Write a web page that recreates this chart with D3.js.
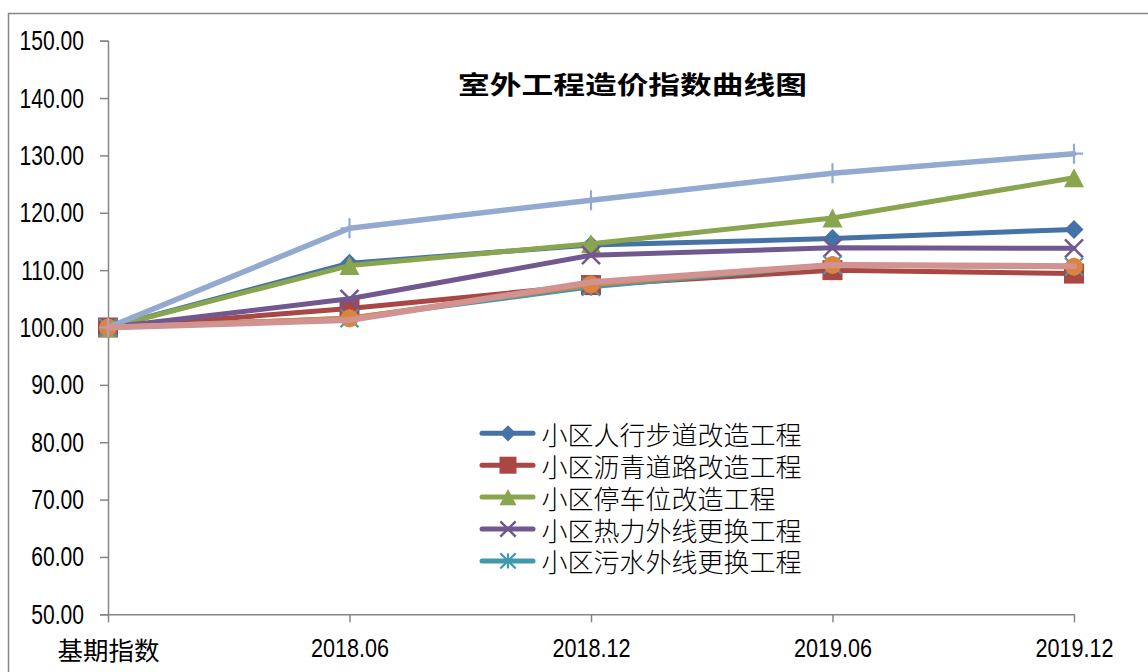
<!DOCTYPE html>
<html><head><meta charset="utf-8">
<script src="https://cdn.jsdelivr.net/npm/d3@7"></script>
<style>
html,body{margin:0;padding:0;background:#fff;}
svg{display:block;}
</style></head>
<body>
<svg id="chart" width="1148" height="672"></svg>
<script>
const title = "室外工程造价指数曲线图";
const categories = ["基期指数", "2018.06", "2018.12", "2019.06", "2019.12"];
const yTicks = [50, 60, 70, 80, 90, 100, 110, 120, 130, 140, 150];

const seriesNames = ["小区人行步道改造工程", "小区沥青道路改造工程", "小区停车位改造工程", "小区热力外线更换工程", "小区污水外线更换工程", "系列6", "系列7", "系列8"];
const s1 = [100, 111.2, 114.4, 115.5, 117.1];
const s2 = [100, 103.3, 107.4, 110.0, 109.4];
const s3 = [100, 110.8, 114.6, 119.1, 126.1];
const s4 = [100, 105.0, 112.6, 113.9, 113.8];
const s5 = [100, 101.6, 107.1, 110.9, 110.6];
const s6 = [100, 101.6, 107.5, 110.9, 110.6];
const s7 = [100, 117.3, 122.2, 126.9, 130.3];
const s8 = [100, 101.3, 107.9, 110.9, 110.7];
const seriesValues = [s1, s2, s3, s4, s5, s6, s7, s8];
const legendCount = 5;

const colors = ["#4572A7", "#AA4643", "#89A54E", "#71588F", "#4198AF", "#DB843D", "#93A9CF", "#D19392"];
const markers = ["diamond", "square", "triangle", "x", "star", "circle", "plus", "none"];
const widths = [5, 5, 5, 5, 5, 5, 5.5, 6];

const svg = d3.select("#chart");
const axisColor = "#868686";

// outer frame
svg.append("rect").attr("x", 8.5).attr("y", 13.5).attr("width", 1200).attr("height", 700)
  .attr("fill", "none").attr("stroke", axisColor).attr("stroke-width", 1.5);

const x = d3.scalePoint().domain(categories).range([108, 1074]);
const y = d3.scaleLinear().domain([50, 150]).range([614.3, 40.7]);

// title
svg.append("text").attr("x", 458).attr("y", 82.5)
  .attr("dominant-baseline", "central")
  .attr("font-family", "'Noto Sans CJK SC', sans-serif").attr("font-weight", "bold")
  .attr("font-size", 25).attr("fill", "#000")
  .attr("textLength", 349).attr("lengthAdjust", "spacingAndGlyphs")
  .text(title);

// Y axis
const yAxis = svg.append("g").attr("transform", "translate(108,0)")
  .call(d3.axisLeft(y).tickValues(yTicks).tickSize(8).tickPadding(16).tickFormat(d => d.toFixed(2)));
yAxis.selectAll("path,line").attr("stroke", axisColor).attr("stroke-width", 1.5);
yAxis.selectAll("text").attr("font-family", "'Liberation Sans', Arial, sans-serif")
  .attr("font-size", 27).attr("fill", "#000").attr("dy", null)
  .attr("dominant-baseline", "central")
  .each(function() { const L = this.getComputedTextLength(); d3.select(this).attr("textLength", L * 0.78).attr("lengthAdjust", "spacingAndGlyphs"); });

// X axis
const xAxis = svg.append("g").attr("transform", "translate(0,614.3)")
  .call(d3.axisBottom(x).tickSize(8).tickSizeOuter(0));
xAxis.select("path").attr("stroke", axisColor).attr("stroke-width", 1.5);
xAxis.selectAll("line").attr("stroke", axisColor).attr("stroke-width", 1.5);
xAxis.selectAll("text").attr("y", 34).attr("dy", null).attr("dominant-baseline", "central")
  .attr("font-size", 26).attr("fill", "#000")
  .attr("font-family", d => /^\d/.test(d) ? "'Liberation Sans', Arial, sans-serif" : "'Noto Sans CJK SC', sans-serif")
  .each(function(d) {
    if (/^\d/.test(d)) { const L = this.getComputedTextLength(); d3.select(this).attr("textLength", L * 0.83).attr("lengthAdjust", "spacingAndGlyphs"); }
    else { d3.select(this).attr("font-size", 25.5); }
  });

function drawMarker(g, type, cx, cy, color, s) {
  s = s || 1;
  if (type === "diamond") {
    const h = 9.5 * s;
    g.append("path").attr("d", `M${cx},${cy-h}L${cx+h},${cy}L${cx},${cy+h}L${cx-h},${cy}Z`).attr("fill", color);
  } else if (type === "square") {
    const h = 10 * s;
    g.append("rect").attr("x", cx-h).attr("y", cy-h).attr("width", 2*h).attr("height", 2*h).attr("fill", color);
  } else if (type === "triangle") {
    const w = 10 * s, hh = 9.5 * s;
    g.append("path").attr("d", `M${cx},${cy-hh}L${cx+w},${cy+hh}L${cx-w},${cy+hh}Z`).attr("fill", color);
  } else if (type === "circle") {
    g.append("circle").attr("cx", cx).attr("cy", cy).attr("r", 9 * s).attr("fill", color);
  } else if (type === "x") {
    const h = 9 * s;
    g.append("path").attr("d", `M${cx-h},${cy-h}L${cx+h},${cy+h}M${cx+h},${cy-h}L${cx-h},${cy+h}`)
      .attr("stroke", color).attr("stroke-width", 2.5).attr("fill", "none");
  } else if (type === "plus") {
    const h = 10 * s, w = 9 * s;
    g.append("path").attr("d", `M${cx},${cy-h}L${cx},${cy+h}M${cx-w},${cy}L${cx+w},${cy}`)
      .attr("stroke", color).attr("stroke-width", 2.2).attr("fill", "none");
  } else if (type === "star") {
    const h = 9 * s;
    g.append("path").attr("d", `M${cx-h},${cy-h}L${cx+h},${cy+h}M${cx+h},${cy-h}L${cx-h},${cy+h}M${cx},${cy-h}L${cx},${cy+h}`)
      .attr("stroke", color).attr("stroke-width", 2.2).attr("fill", "none");
  }
}

const line = d3.line().x((d, i) => x(categories[i])).y(d => y(d));
const plot = svg.append("g");
seriesValues.forEach((vals, si) => {
  const g = plot.append("g");
  g.append("path").datum(vals).attr("d", line).attr("fill", "none")
    .attr("stroke", colors[si]).attr("stroke-width", widths[si])
    .attr("stroke-linejoin", "round").attr("stroke-linecap", "round");
  vals.forEach((v, i) => drawMarker(g, markers[si], x(categories[i]), y(v), colors[si], 1));
});

// legend
const legend = svg.append("g");
const rowY = [433.3, 465.2, 497.1, 529.0, 560.9];
for (let i = 0; i < legendCount; i++) {
  const ly = rowY[i];
  legend.append("line").attr("x1", 482).attr("x2", 533).attr("y1", ly).attr("y2", ly)
    .attr("stroke", colors[i]).attr("stroke-width", 5).attr("stroke-linecap", "round");
  drawMarker(legend, markers[i], 508, ly, colors[i], 0.85);
  legend.append("text").attr("x", 541.5).attr("y", ly).attr("dominant-baseline", "central")
    .attr("font-family", "'Noto Sans CJK SC', sans-serif").attr("font-weight", 300)
    .attr("font-size", 26).attr("fill", "#000").text(seriesNames[i]);
}
</script>
</body></html>
